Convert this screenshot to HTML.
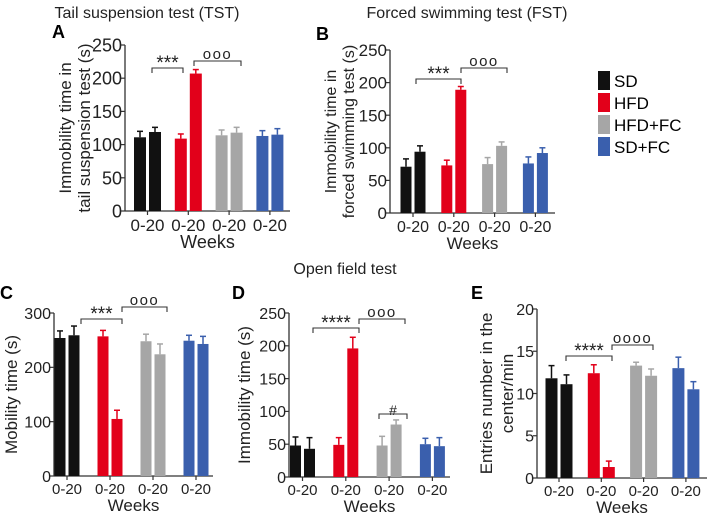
<!DOCTYPE html>
<html><head><meta charset="utf-8">
<style>
body{margin:0;background:#fff;}
svg{display:block;font-family:"Liberation Sans",Arial,sans-serif;}
</style></head>
<body>
<svg id="fig" width="709" height="513" viewBox="0 0 709 513" xmlns="http://www.w3.org/2000/svg">
<text x="147" y="18" font-size="16" text-anchor="middle" fill="#222">Tail suspension test (TST)</text>
<text x="467" y="18" font-size="16" text-anchor="middle" fill="#222">Forced swimming test (FST)</text>
<text x="345" y="274" font-size="16" text-anchor="middle" fill="#222">Open field test</text>
<text x="52" y="38" font-size="18" font-weight="bold">A</text>
<text x="316" y="40" font-size="18" font-weight="bold">B</text>
<text x="0" y="299" font-size="18" font-weight="bold">C</text>
<text x="232" y="299" font-size="18" font-weight="bold">D</text>
<text x="471" y="299" font-size="18" font-weight="bold">E</text>
<g>
<rect x="598" y="71" width="12" height="19" fill="#111"/>
<text x="614" y="87" font-size="17">SD</text>
<rect x="598" y="93" width="12" height="19" fill="#e2001a"/>
<text x="614" y="109" font-size="17">HFD</text>
<rect x="598" y="115" width="12" height="19" fill="#a6a6a6"/>
<text x="614" y="131" font-size="17">HFD+FC</text>
<rect x="598" y="137" width="12" height="19" fill="#3a5fad"/>
<text x="614" y="153" font-size="17">SD+FC</text>
</g>
</svg>
<script>
const groups = ["SD","HFD","HFD+FC","SD+FC"];
const colors = ["#111111","#e2001a","#a6a6a6","#3a5fad"];
const catLabels = ["0-20","0-20","0-20","0-20"];
const valsA = [111,119,109,207,114,118,113,115];
const errA = [9,7,7,6,8,8,8,9];
const ticksA = [0,50,100,150,200,250];
const valsB = [71,94,73,189,75,103,76,92];
const errB = [12,9,8,5,10,6,10,8];
const ticksB = [0,50,100,150,200,250];
const valsC = [254,259,257,105,248,224,249,243];
const errC = [13,17,11,16,13,19,10,14];
const ticksC = [0,100,200,300];
const valsD = [48,43,49,196,48,80,50,47];
const errD = [13,17,11,17,14,7,9,13];
const ticksD = [0,50,100,150,200,250];
const valsE = [11.8,11.1,12.4,1.3,13.3,12.1,13.0,10.5];
const errE = [1.5,1.1,1.0,0.7,0.4,0.8,1.3,0.9];
const ticksE = [0,5,10,15,20];

const NS="http://www.w3.org/2000/svg";
const svg=document.getElementById('fig');
function mk(tag,attrs,parent){const e=document.createElementNS(NS,tag);for(const k in attrs)e.setAttribute(k,attrs[k]);(parent||svg).appendChild(e);return e;}

function panel(p){
  const g=mk('g',{});
  
  
  const y=v=>p.y0-(v/p.max)*(p.y0-p.yTop);
  const ya=mk('line',{x1:p.ax,y1:p.yTop,x2:p.ax,y2:p.y0,stroke:'#333','stroke-width':1.3},g);
  
  
  const xa=mk('line',{x1:p.ax,y1:p.y0,x2:p.axEnd,y2:p.y0,stroke:'#333','stroke-width':1.3},g);
  
  
  p.ticks.forEach(t=>{
    mk('line',{x1:p.ax-4,y1:y(t),x2:p.ax,y2:y(t),stroke:'#333','stroke-width':1.2},g);
    const tl=mk('text',{x:p.ax-3,y:y(t)+p.tf*0.36,'font-size':p.tf,'text-anchor':'end',fill:'#222'},g);
    tl.textContent=t;
    
    
  });
  for(let i=0;i<4;i++){
    const c=p.c0+i*p.step;
    mk('line',{x1:c,y1:p.y0,x2:c,y2:p.y0+4,stroke:'#333','stroke-width':1.2},g);
    const cl=mk('text',{x:c,y:p.y0+p.xf+3,'font-size':p.xf,'text-anchor':'middle',fill:'#222'},g);
    cl.textContent=catLabels[i];
    
    
    for(let j=0;j<2;j++){
      const k=i*2+j;
      const bx=j===0?c-1.5-p.bw:c+1.5;
      const top=y(p.vals[k]);
      const et=y(p.vals[k]+p.errs[k]);
      const eb=mk('line',{x1:bx+p.bw/2,y1:top,x2:bx+p.bw/2,y2:et,stroke:colors[i],'stroke-width':1.5},g);
      
      
      mk('line',{x1:bx+p.bw/2-3,y1:et,x2:bx+p.bw/2+3,y2:et,stroke:colors[i],'stroke-width':1.5},g);
      const r=mk('rect',{x:bx,y:top,width:p.bw,height:p.y0-top,fill:colors[i]},g);
      
      
    }
  }
  const wk=mk('text',{x:(p.ax+p.axEnd)/2,y:p.y0+p.xf+20,'font-size':p.wf,'text-anchor':'middle',fill:'#222'},g);
  wk.textContent='Weeks';
  
  
  p.title.forEach((line,li)=>{
    const tx=p.titleX[li];
    const cy=(p.yTop+p.y0)/2;
    const tt=mk('text',{x:tx,y:cy,'font-size':p.yf,'text-anchor':'middle',fill:'#222',transform:'rotate(-90 '+tx+' '+cy+')'},g);
    tt.textContent=line;
    
    
  });
  p.brackets.forEach(b=>{
    const bk=mk('path',{d:'M'+b[0]+' '+(b[2]+5)+'V'+b[2]+'H'+b[1]+'V'+(b[2]+5),fill:'none',stroke:'#333','stroke-width':1.1},g);
    
    
    const isO=b[3].indexOf('o')>=0;
    const st=mk('text',{x:(b[0]+b[1])/2,y:isO?b[2]-2:b[2]+1,'font-size':b[3]==='#'?14:(isO?15:19),'text-anchor':'middle',fill:'#222','letter-spacing':isO?1.5:0},g);
    st.textContent=b[3];
    
    
  });
}
panel({id:'a',ax:125,axEnd:290,yTop:45,y0:211,max:250,ticks:ticksA,vals:valsA,errs:errA,c0:147.5,step:40.8,bw:12,tf:18,xf:17,wf:18,yf:17,title:['Immobility time in','tail suspension test (s)'],titleX:[71,90],
  brackets:[[152,183,68,'***'],[194,241,61,'ooo']]});
panel({id:'b',ax:390,axEnd:555,yTop:50,y0:213,max:250,ticks:ticksB,vals:valsB,errs:errB,c0:413,step:40.8,bw:11,tf:17,xf:16,wf:17,yf:16,title:['Immobility time in','forced swimming test (s)'],titleX:[336,354],
  brackets:[[416,461,79,'***'],[461,507,68,'ooo']]});
panel({id:'c',ax:54,axEnd:213,yTop:313,y0:476,max:300,ticks:ticksC,vals:valsC,errs:errC,c0:67,step:43,bw:11,tf:16,xf:15,wf:17,yf:17,title:['Mobility time (s)'],titleX:[17],
  brackets:[[81,122,319,'***'],[122,167,307,'ooo']]});
panel({id:'d',ax:289,axEnd:450,yTop:313,y0:477,max:250,ticks:ticksD,vals:valsD,errs:errD,c0:302.5,step:43.3,bw:11,tf:16,xf:15,wf:17,yf:17,title:['Immobility time (s)'],titleX:[250],
  brackets:[[313,359,328,'****'],[359,405,319,'ooo'],[379,407,414,'#']]});
panel({id:'e',ax:537,axEnd:707,yTop:309,y0:478,max:20,ticks:ticksE,vals:valsE,errs:errE,c0:559,step:42.3,bw:12,tf:16,xf:15,wf:17,yf:17,title:['Entries number in the','center/min'],titleX:[492,513],
  brackets:[[566,612,356,'****'],[612,653,345,'oooo']]});
</script>
</body></html>
